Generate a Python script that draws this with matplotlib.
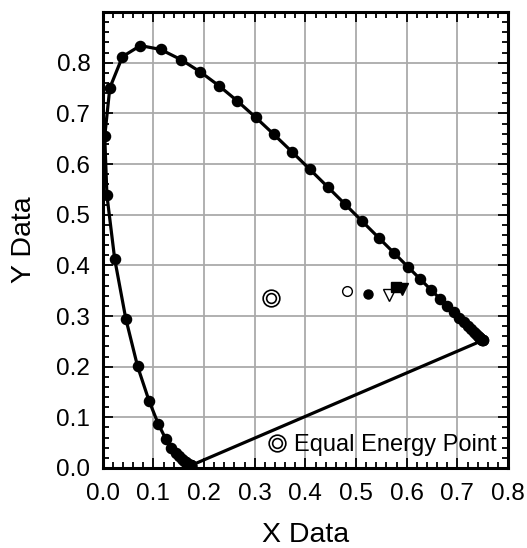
import matplotlib
matplotlib.use("Agg")
import matplotlib.pyplot as plt
from matplotlib.ticker import MultipleLocator
from matplotlib.legend_handler import HandlerTuple

plt.rcParams['font.family'] = ['Liberation Sans', 'DejaVu Sans']

# Spectral locus chromaticity coordinates (380 nm -> red end)
locus_x = [0.1741, 0.1740, 0.1738, 0.1736, 0.1733, 0.1730, 0.1726, 0.1721, 0.1714, 0.1703,
           0.1689, 0.1669, 0.1644, 0.1611, 0.1566, 0.1510, 0.1440, 0.1355, 0.1241, 0.1096,
           0.0913, 0.0687, 0.0454, 0.0235, 0.0082, 0.0039, 0.0139, 0.0389, 0.0743, 0.1142,
           0.1547, 0.1929, 0.2296, 0.2658, 0.3016, 0.3373, 0.3731, 0.4087, 0.4441, 0.4788,
           0.5125, 0.5448, 0.5752, 0.6029, 0.6270, 0.6482, 0.6658, 0.6800, 0.6930, 0.7040,
           0.7130, 0.7210, 0.7270, 0.7320, 0.7360, 0.7400, 0.7430, 0.7450, 0.7470, 0.7480,
           0.7490, 0.7500, 0.7500]
locus_y = [0.0050, 0.0050, 0.0049, 0.0049, 0.0048, 0.0048, 0.0048, 0.0048, 0.0051, 0.0058,
           0.0069, 0.0086, 0.0109, 0.0138, 0.0177, 0.0227, 0.0297, 0.0399, 0.0578, 0.0868,
           0.1327, 0.2007, 0.2950, 0.4127, 0.5384, 0.6548, 0.7502, 0.8120, 0.8338, 0.8262,
           0.8059, 0.7816, 0.7543, 0.7243, 0.6923, 0.6589, 0.6245, 0.5896, 0.5547, 0.5202,
           0.4866, 0.4544, 0.4242, 0.3965, 0.3725, 0.3514, 0.3340, 0.3205, 0.3080, 0.2970,
           0.2880, 0.2800, 0.2740, 0.2690, 0.2650, 0.2610, 0.2580, 0.2560, 0.2540, 0.2530,
           0.2520, 0.2520, 0.2520]

# Equal energy point
ee_x = [0.333]
ee_y = [0.336]

# Other sample points
open_circle = (0.483, 0.349)
filled_circle = (0.524, 0.344)
open_tri = (0.565, 0.342)
filled_square = (0.578, 0.357)
filled_tri = (0.591, 0.354)

tick_vals = [0.0, 0.1, 0.2, 0.3, 0.4, 0.5, 0.6, 0.7, 0.8]
tick_labels = ['0.0', '0.1', '0.2', '0.3', '0.4', '0.5', '0.6', '0.7', '0.8']

fig = plt.figure(figsize=(5.27, 5.48), dpi=100)
ax = fig.add_axes([0.195, 0.146, 0.769, 0.832])

ax.grid(True, which='major', color='#aaaaaa', linewidth=1.3, zorder=0)
ax.set_axisbelow(True)

# locus (closed with line of purples)
ax.plot(locus_x + [locus_x[0]], locus_y + [locus_y[0]], color='black', linewidth=2.3, zorder=3)
ax.plot(locus_x, locus_y, linestyle='none', marker='o', markersize=7.3,
        color='black', zorder=4)

ax.plot(*open_circle, marker='o', markersize=7, markerfacecolor='white',
        markeredgecolor='black', markeredgewidth=1, linestyle='none', zorder=4)
ax.plot(*filled_circle, marker='o', markersize=6.5, color='black', linestyle='none', zorder=4)
ax.plot(*open_tri, marker='v', markersize=8, markerfacecolor='white',
        markeredgecolor='black', markeredgewidth=1, linestyle='none', zorder=4)
ax.plot(*filled_square, marker='s', markersize=7, color='black', linestyle='none', zorder=4)
ax.plot(*filled_tri, marker='v', markersize=8, color='black', linestyle='none', zorder=4)

h1, = ax.plot(ee_x, ee_y, marker='o', markersize=12, markerfacecolor='none',
              markeredgecolor='black', markeredgewidth=1.2, linestyle='none', zorder=4)
h2, = ax.plot(ee_x, ee_y, marker='o', markersize=7, markerfacecolor='none',
              markeredgecolor='black', markeredgewidth=1.2, linestyle='none', zorder=4)

ax.legend([(h1, h2)], ['Equal Energy Point'], handler_map={tuple: HandlerTuple(ndivide=1)},
          loc='lower right', frameon=False, fontsize=17, handlelength=0.8,
          handletextpad=0.3, borderaxespad=0.1, bbox_to_anchor=(1.0, 0.0))

ax.set_xlim(0, 0.8)
ax.set_ylim(0, 0.9)
ax.set_xticks(tick_vals)
ax.set_yticks(tick_vals)
ax.set_xticklabels(tick_labels)
ax.set_yticklabels(tick_labels)
ax.xaxis.set_minor_locator(MultipleLocator(0.02))
ax.yaxis.set_minor_locator(MultipleLocator(0.02))

ax.tick_params(which='both', direction='in', top=True, right=True, width=1.3, color='black')
ax.tick_params(which='major', length=7, labelsize=17.5)
ax.tick_params(axis='x', which='major', pad=11)
ax.tick_params(axis='y', which='major', pad=9)
ax.tick_params(which='minor', length=4)

for s in ax.spines.values():
    s.set_linewidth(2.2)

ax.set_xlabel('X Data', fontsize=20.5, labelpad=12)
ax.set_ylabel('Y Data', fontsize=20.5, labelpad=14)

fig.savefig('out.png', dpi=100)
